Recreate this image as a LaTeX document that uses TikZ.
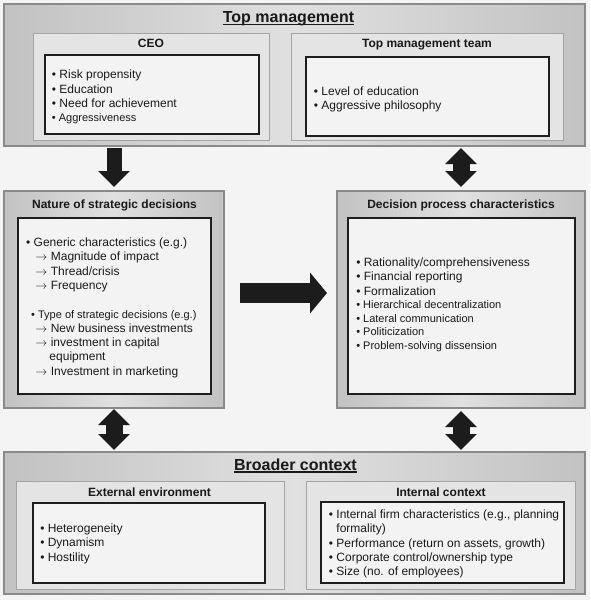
\documentclass[tikz,border=0pt]{standalone}
\usepackage{fontspec}
\setmainfont{Liberation Sans}
\usetikzlibrary{arrows.meta,shadows,calc}
\definecolor{bgc}{HTML}{F4F4F4}
\definecolor{outerline}{HTML}{8A8A8A}
\definecolor{outerside}{HTML}{C2C2C2}
\definecolor{outermid}{HTML}{E0E0E0}
\definecolor{midline}{HTML}{A4A4A4}
\definecolor{midfill}{HTML}{E4E4E4}
\definecolor{innerfill}{HTML}{F3F3F3}
\definecolor{innerline}{HTML}{1E1E1E}
\definecolor{arrowc}{HTML}{1C1C1C}
\begin{document}
\begin{tikzpicture}[x=1pt,y=-1pt,
  outerbox/.style={draw=outerline, line width=1.2pt, left color=outerside, right color=outerside, middle color=outermid,
    inner sep=0pt, outer sep=0pt, anchor=north west,
    drop shadow={shadow xshift=1.2pt, shadow yshift=-1.2pt, fill=gray!80, opacity=0.7}},
  midbox/.style={draw=midline, line width=1pt, fill=midfill, inner sep=0pt, outer sep=0pt, anchor=north west,
    drop shadow={shadow xshift=1pt, shadow yshift=-1pt, fill=gray!60, opacity=0.6}},
  innerbox/.style={draw=innerline, line width=1.3pt, fill=innerfill, inner sep=0pt, outer sep=0pt, anchor=north west},
  bigtitle/.style={font=\fontsize{16}{19}\selectfont\bfseries, anchor=base, inner sep=0pt, text=black!90},
  subtitle/.style={font=\fontsize{12}{14}\selectfont\bfseries, anchor=base, inner sep=0pt, text=black!90},
  listtxt/.style={font=\fontsize{12}{14.3}\selectfont, anchor=base west, align=left, inner sep=0pt, text=black!90},
  listsmall/.style={font=\fontsize{11}{13.5}\selectfont, anchor=base west, align=left, inner sep=0pt, text=black!90},
  arrdown/.style={draw=arrowc, line width=15pt, -{Triangle[width=31pt,length=16pt]}},
  arrright/.style={draw=arrowc, line width=20pt, -{Triangle[width=40pt,length=17pt]}},
  arrboth/.style={draw=arrowc, line width=17pt, {Triangle[width=31pt,length=16pt]}-{Triangle[width=31pt,length=16pt]}},
  uline/.style={draw=black!90, line width=1.2pt}
]
\useasboundingbox (0,0) rectangle (590,600);
\fill[bgc] (0,0) rectangle (590,600);

% ---------- Top management ----------
\node[outerbox, minimum width=581pt, minimum height=142pt] (top) at (4,4) {};
\node[bigtitle] (toptitle) at (288.5,22.8) {Top management};
\draw[uline] ([yshift=-2pt]toptitle.base west) -- ([yshift=-2pt]toptitle.base east);

\node[midbox, minimum width=236pt, minimum height=107pt] (ceo) at (33,33) {};
\node[subtitle] (ceot) at (151,47.6) {CEO};
\node[innerbox, minimum width=214pt, minimum height=79pt] (ceoin) at (45,55) {};
\node[listtxt] (ceolist) at (51.7,121.6) {• Risk propensity\\• Education\\• Need for achievement\\{\fontsize{11}{14.3}\selectfont • Aggressiveness}};

\node[midbox, minimum width=272pt, minimum height=107pt] (tmt) at (291,33) {};
\node[subtitle] (tmtt) at (427,47.4) {Top management team};
\node[innerbox, minimum width=243pt, minimum height=79pt] (tmtin) at (306,57) {};
\node[listtxt] (tmtlist) at (313.7,109.3) {• Level of education\\• Aggressive philosophy};

% ---------- Nature of strategic decisions ----------
\node[outerbox, minimum width=220pt, minimum height=217pt] (nature) at (4,191) {};
\node[subtitle] (naturet) at (114.5,208.6) {Nature of strategic decisions};
\node[innerbox, minimum width=193pt, minimum height=176pt] (natin) at (18,218) {};
\node[listtxt] (natlist) at (26,375.2) {• Generic characteristics (e.g.)\\
\hspace*{9.3pt}$\rightarrow$ Magnitude of impact\\
\hspace*{9.3pt}$\rightarrow$ Thread/crisis\\
\hspace*{9.3pt}$\rightarrow$ Frequency\\
\mbox{}\\
{\fontsize{11}{14.3}\selectfont\hspace*{5pt}• Type of strategic decisions (e.g.)}\\
\hspace*{9.3pt}$\rightarrow$ New business investments\\
\hspace*{9.3pt}$\rightarrow$ investment in capital\\
\hspace*{23.3pt}equipment\\
\hspace*{9.3pt}$\rightarrow$ Investment in marketing};

% ---------- Decision process characteristics ----------
\node[outerbox, minimum width=248pt, minimum height=217pt] (dec) at (337,191) {};
\node[subtitle] (dect) at (461,208.6) {Decision process characteristics};
\node[innerbox, minimum width=227pt, minimum height=176pt] (decin) at (348,218) {};
\node[listtxt] (declist) at (356.1,295.1) {• Rationality/comprehensiveness\\• Financial reporting\\• Formalization};
\node[listsmall] (declistb) at (356.1,349) {• Hierarchical decentralization\\• Lateral communication\\• Politicization\\• Problem-solving dissension};

% ---------- Broader context ----------
\node[outerbox, minimum width=581pt, minimum height=142pt] (broad) at (4,452) {};
\node[bigtitle] (broadt) at (295.5,470) {Broader context};
\draw[uline] ([yshift=-2pt]broadt.base west) -- ([yshift=-2pt]broadt.base east);

\node[midbox, minimum width=268pt, minimum height=108pt] (ext) at (16,481) {};
\node[subtitle] (extt) at (149.5,496) {External environment};
\node[innerbox, minimum width=232pt, minimum height=80pt] (extin) at (33,503) {};
\node[listtxt] (extlist) at (40.1,561) {• Heterogeneity\\• Dynamism\\• Hostility};

\node[midbox, minimum width=269pt, minimum height=108pt] (int) at (306,481) {};
\node[subtitle] (intt) at (441,496) {Internal context};
\node[innerbox, minimum width=243pt, minimum height=81pt] (intin) at (321,502) {};
\node[listtxt] (intlist) at (328.7,575.6) {• Internal firm characteristics (e.g., planning\\
\phantom{• }formality)\\• Performance (return on assets, growth)\\• Corporate control/ownership type\\• Size (no. of employees)};

% ---------- Connectors ----------
\draw[arrdown] ([yshift=-2pt]top.south -| nature.north) -- ([yshift=4pt]nature.north);
\draw[arrboth] ([yshift=-2pt]top.south -| dec.north) -- ([yshift=4pt]dec.north);
\draw[arrright] ([xshift=16pt,yshift=6.5pt]nature.east) -- ([xshift=-10pt,yshift=6.5pt]dec.west);
\draw[arrboth] ([yshift=-1pt]nature.south) -- ([yshift=2pt]broad.north -| nature.south);
\draw[arrboth] ([yshift=-3pt]dec.south) -- ([yshift=2pt]broad.north -| dec.south);
\end{tikzpicture}
\end{document}
